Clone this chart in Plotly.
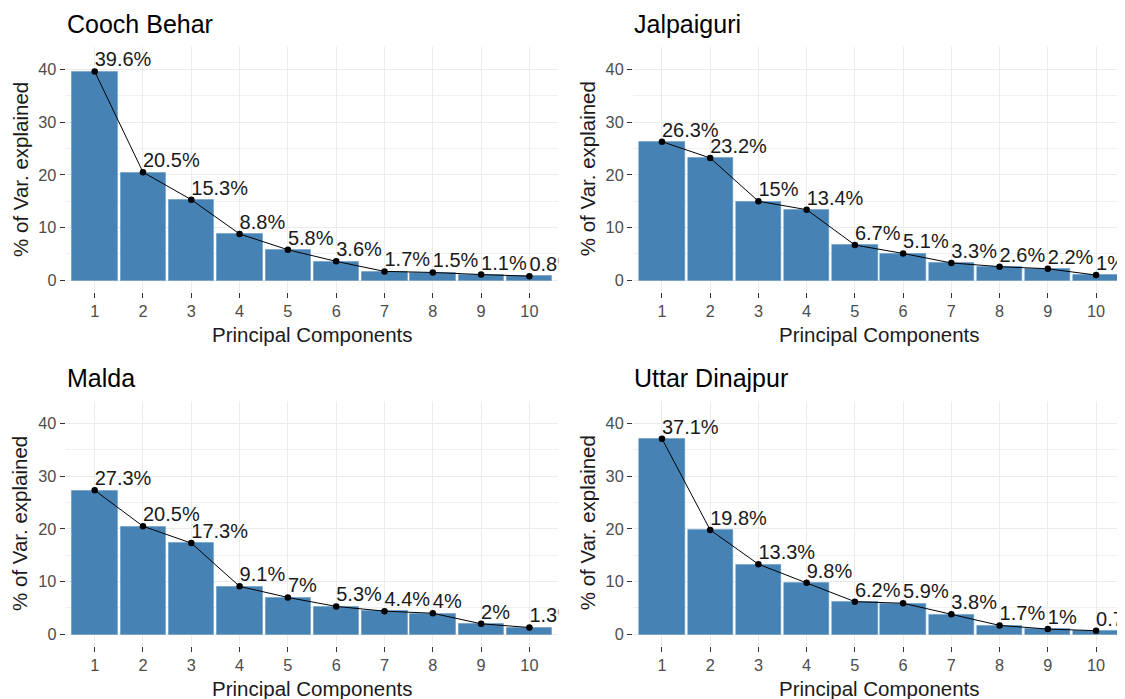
import plotly.graph_objects as go
from plotly.subplots import make_subplots

components = [1, 2, 3, 4, 5, 6, 7, 8, 9, 10]
tick_labels = ["1", "2", "3", "4", "5", "6", "7", "8", "9", "10"]

districts = ["Cooch Behar", "Jalpaiguri", "Malda", "Uttar Dinajpur"]
cooch_behar = [39.6, 20.5, 15.3, 8.8, 5.8, 3.6, 1.7, 1.5, 1.1, 0.8]
jalpaiguri = [26.3, 23.2, 15, 13.4, 6.7, 5.1, 3.3, 2.6, 2.2, 1]
malda = [27.3, 20.5, 17.3, 9.1, 7, 5.3, 4.4, 4, 2, 1.3]
uttar_dinajpur = [37.1, 19.8, 13.3, 9.8, 6.2, 5.9, 3.8, 1.7, 1, 0.7]
series = [cooch_behar, jalpaiguri, malda, uttar_dinajpur]

# the page body has an 8px margin, so the figure is drawn 8px in from the window corner
OFF = 8
W, H = 1125 - OFF, 699 - OFF
FONT = "Liberation Sans, Arial, sans-serif"


def px_x(p):
    return (p - OFF) / W


def px_y(p):
    return 1 - (p - OFF) / H


# panel pixel boxes in window coordinates (left, right, top, bottom)
col_px = [(65.7, 558.4), (633.0, 1125.0)]
row_px = [(46.7, 291.7), (400.7, 645.7)]

fig = make_subplots(rows=2, cols=2)

for i, (name, vals) in enumerate(zip(districts, series)):
    r, c = i // 2 + 1, i % 2 + 1
    fig.add_trace(go.Bar(x=components, y=vals, width=0.94,
                         marker=dict(color="#4682B4", line=dict(color="#5b90bf", width=0.5)),
                         showlegend=False), row=r, col=c)
    fig.add_trace(go.Scatter(x=components, y=vals, mode="lines+markers",
                             line=dict(color="black", width=1),
                             marker=dict(color="black", size=6.5),
                             showlegend=False), row=r, col=c)
    fig.add_trace(go.Scatter(x=components, y=vals, mode="text",
                             text=[f"{v:g}%" for v in vals],
                             textposition="top right",
                             textfont=dict(family=FONT, size=20, color="#1a1a1a"),
                             cliponaxis=True, showlegend=False), row=r, col=c)

annotations = []
for i, name in enumerate(districts):
    ri, ci = i // 2, i % 2
    l, rr = col_px[ci]
    t, b = row_px[ri]
    xd = [px_x(l), min(1.0, px_x(rr))]
    yd = [px_y(b), px_y(t)]
    k = "" if i == 0 else str(i + 1)
    fig.layout["xaxis" + k].update(
        domain=xd, range=[0.4, 10.6], tickvals=components, ticktext=tick_labels,
        showgrid=True, gridcolor="#EBEBEB", gridwidth=1, zeroline=False,
        showline=False, ticks="outside", ticklen=5, tickcolor="#333333", tickwidth=1,
        tickfont=dict(family=FONT, size=16.3, color="#4D4D4D"))
    fig.layout["yaxis" + k].update(
        domain=yd, range=[-2.15, 44.3], tickvals=[0, 10, 20, 30, 40],
        showgrid=True, gridcolor="#EBEBEB", gridwidth=1, zeroline=False,
        showline=False, ticks="outside", ticklen=5, tickcolor="#333333", tickwidth=1,
        tickfont=dict(family=FONT, size=16.3, color="#4D4D4D"),
        minor=dict(tickvals=[5, 15, 25, 35], showgrid=True, gridcolor="#F0F0F0",
                   gridwidth=0.7, ticks=""))
    # title
    annotations.append(dict(text=name, xref="paper", yref="paper",
                            x=px_x(l - 1), y=px_y(t - 23),
                            xanchor="left", yanchor="middle", showarrow=False,
                            font=dict(family=FONT, size=25, color="black")))
    # x-axis title
    annotations.append(dict(text="Principal Components", xref="paper", yref="paper",
                            x=px_x((l + rr) / 2), y=px_y(b + 43),
                            xanchor="center", yanchor="middle", showarrow=False,
                            font=dict(family=FONT, size=20.5, color="#1a1a1a")))
    # y-axis title
    annotations.append(dict(text="% of Var. explained", xref="paper", yref="paper",
                            x=px_x(l - 46), y=px_y((t + b) / 2), textangle=-90,
                            xanchor="center", yanchor="middle", showarrow=False,
                            font=dict(family=FONT, size=20.5, color="#1a1a1a")))

fig.update_layout(width=W, height=H, margin=dict(l=0, r=0, t=0, b=0),
                  plot_bgcolor="white", paper_bgcolor="white",
                  annotations=annotations, bargap=0, showlegend=False)

fig.write_html("out.html")
